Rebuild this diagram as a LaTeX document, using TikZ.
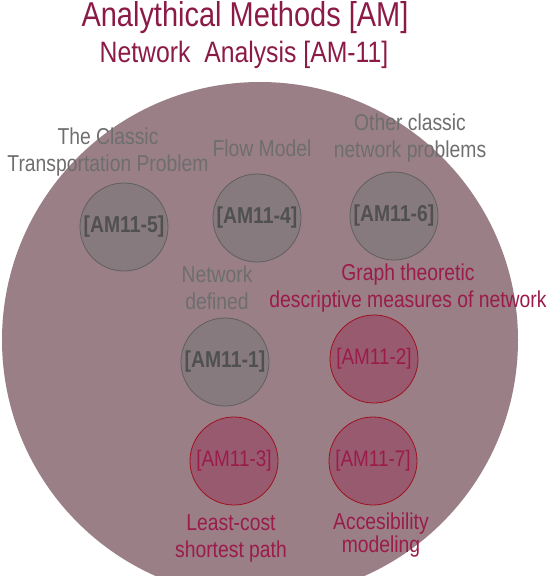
\documentclass[tikz,border=0pt]{standalone}
\usepackage{fontspec}
\setmainfont{Liberation Sans}[FakeStretch=0.84]
\definecolor{bigc}{HTML}{9A7F87}
\definecolor{grayfill}{HTML}{877A7E}
\definecolor{grayline}{HTML}{5F5F5F}
\definecolor{graytext}{HTML}{6E6E6E}
\definecolor{nodegray}{HTML}{505050}
\definecolor{redfill}{HTML}{985A6F}
\definecolor{redline}{HTML}{A01020}
\definecolor{redtext}{HTML}{9B1B4B}
\definecolor{titlec}{HTML}{8C1A46}
\begin{document}
\begin{tikzpicture}[x=1pt,y=-1pt,
  graynode/.style={circle,draw=grayline,fill=grayfill,minimum size=88pt,inner sep=0pt,line width=0.8pt,text=nodegray,font=\fontsize{23}{25}\selectfont\bfseries},
  rednode/.style={circle,draw=redline,fill=redfill,minimum size=88pt,inner sep=0pt,line width=0.8pt,text=redtext,font=\fontsize{22.5}{25}\selectfont},
  graylabel/.style={align=center,text=graytext,font=\fontsize{23}{27}\selectfont,inner sep=0pt},
  redlabel/.style={align=center,text=redtext,font=\fontsize{23}{27}\selectfont,inner sep=0pt}]
\useasboundingbox (0,0) rectangle (550,576);
\begin{scope}
\clip (0,0) rectangle (550,576);
\fill[bigc] (260,340) circle[radius=258];
\end{scope}
\node[text=titlec,font=\fontsize{34.5}{36}\selectfont,inner sep=0pt] (title) at (245,18) {Analythical Methods [AM]};
\node[text=titlec,font=\fontsize{29.5}{31}\selectfont,inner sep=0pt] (subtitle) at (244,55) {Network\ \ Analysis [AM-11]};
\node[graynode] (n5) at (124,227) {[AM11-5]};
\node[graynode] (n4) at (257,218) {[AM11-4]};
\node[graynode] (n6) at (394,216) {[AM11-6]};
\node[graynode] (n1) at (225,362) {[AM11-1]};
\node[rednode] (n2) at (374,359) {[AM11-2]};
\node[rednode] (n3) at (234,461) {[AM11-3]};
\node[rednode] (n7) at (373,461) {[AM11-7]};
\node[graylabel] (l5) at (108,152) {The Classic\\Transportation Problem};
\node[graylabel] (l4) at (262,148) {Flow Model};
\node[graylabel] (l6) at (410,138) {Other classic\\network problems};
\node[graylabel] (l1) at (217,288) {Network\\defined};
\node[redlabel] (l2) at (408,288) {Graph theoretic\\descriptive measures of network};
\node[redlabel] (l3) at (231,538) {Least-cost\\shortest path};
\node[redlabel,font=\fontsize{23}{20}\selectfont] (l7) at (381,535) {Accesibility\\modeling};
\end{tikzpicture}
\end{document}
